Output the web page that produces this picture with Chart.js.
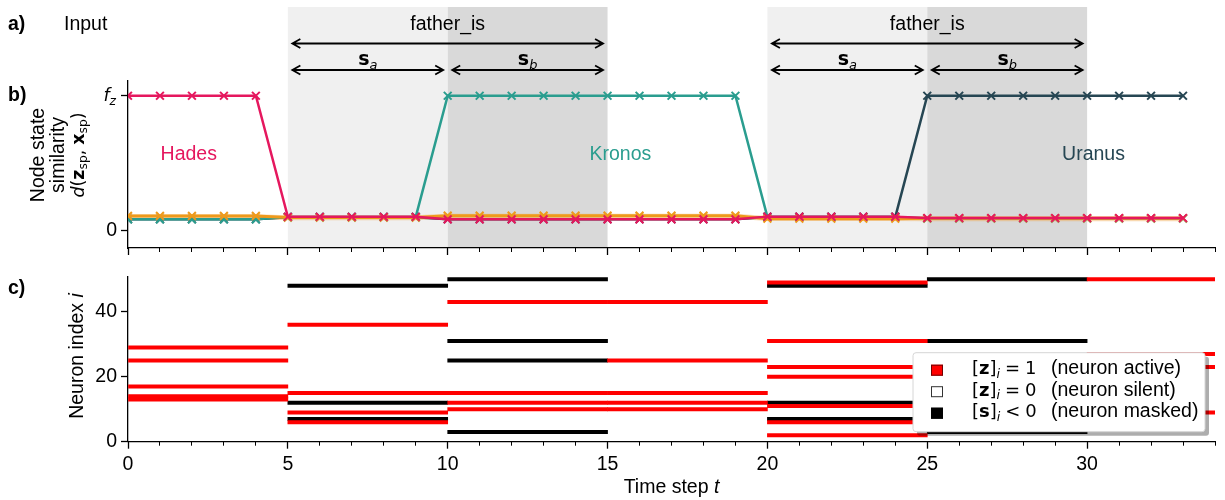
<!DOCTYPE html>
<html>
<head>
<meta charset="utf-8">
<script src="https://cdn.jsdelivr.net/npm/chart.js@4.4.1/dist/chart.umd.min.js"></script>
<style>
  body { margin: 0; background: #fff; }
  #wrap { position: relative; width: 1225px; height: 500px; }
  canvas { position: absolute; left: 0; }
  #chartB { top: 0; }
  #chartC { top: 258px; }
</style>
</head>
<body>
<div id="wrap">
  <canvas id="chartB" width="1225" height="258"></canvas>
  <canvas id="chartC" width="1225" height="242"></canvas>
</div>
<script>
// ---- data: panel b (node state similarity, 1 = f_z) ----
const timeSteps = [0,1,2,3,4,5,6,7,8,9,10,11,12,13,14,15,16,17,18,19,20,21,22,23,24,25,26,27,28,29,30,31,32,33];
const hades  = [1,1,1,1,1, 0.105,0.105,0.105,0.105,0.105, 0.086,0.086,0.086,0.086,0.086,0.086,0.086,0.086,0.086,0.086,
                0.106,0.106,0.106,0.106,0.106, 0.096,0.096,0.096,0.096,0.096,0.096,0.096,0.096,0.096];
const kronos = [0.086,0.086,0.086,0.086,0.086, 0.104,0.104,0.104,0.104,0.104, 1,1,1,1,1,1,1,1,1,1,
                0.104,0.104,0.104,0.104,0.104, 0.092,0.092,0.092,0.092,0.092,0.092,0.092,0.092,0.092];
const uranus = [0.087,0.087,0.087,0.087,0.087, 0.102,0.102,0.102,0.102,0.102, 0.087,0.087,0.087,0.087,0.087,0.087,0.087,0.087,0.087,0.087,
                0.104,0.104,0.104,0.104,0.104, 1,1,1,1,1,1,1,1,1];
const otherA = [0.111,0.111,0.111,0.111,0.111, 0.1,0.1,0.1,0.1,0.1, 0.113,0.113,0.113,0.113,0.113,0.113,0.113,0.113,0.113,0.113,
                0.091,0.091,0.091,0.091,0.091, 0.094,0.094,0.094,0.094,0.094,0.094,0.094,0.094,0.094];
const otherB = [0.106,0.106,0.106,0.106,0.106, 0.097,0.097,0.097,0.097,0.097, 0.108,0.108,0.108,0.108,0.108,0.108,0.108,0.108,0.108,0.108,
                0.093,0.093,0.093,0.093,0.093, 0.09,0.09,0.09,0.09,0.09,0.09,0.09,0.09,0.09];

// input sentences "father_is" (start step, length of each half)
const sentenceStarts = [5, 20];
const halfLen = 5;

// ---- data: panel c (neuron raster, one block per 5 steps) ----
const blockStart = [0, 5, 10, 15, 20, 25, 30];
const blockEnd   = [5, 10, 15, 20, 25, 30, 34];
const activeRows = [
  [29, 25, 17, 14, 13],
  [36, 15, 9, 6],
  [43, 15, 12, 10],
  [43, 25, 15, 12, 10],
  [49, 31, 23, 20, 11, 6, 2],
  [],
  [50, 27, 23, 9]
];
const maskedRows = [
  [],
  [48, 12, 7],
  [50, 31, 25, 3],
  [],
  [48, 12, 7],
  [50, 31, 3],
  []
];

const SANS = '"Liberation Sans", Arial, sans-serif';
const MATH = '"DejaVu Sans", sans-serif';
Chart.defaults.font.family = SANS;
Chart.defaults.font.size = 19.5;
Chart.defaults.color = '#000';

// draw a row of text runs with mixed fonts
function drawRuns(ctx, runs, x, y, align) {
  let total = 0;
  runs.forEach(r => {
    ctx.font = r.font;
    r.w = ctx.measureText(r.text).width + (r.gap || 0);
    total += r.w;
  });
  let cx = align === 'center' ? x - total / 2 : align === 'right' ? x - total : x;
  ctx.textAlign = 'left';
  ctx.textBaseline = 'alphabetic';
  runs.forEach(r => {
    ctx.font = r.font;
    ctx.fillText(r.text, cx + (r.gap || 0), y + (r.dy || 0));
    cx += r.w;
  });
}

function doubleArrow(ctx, x1, x2, y) {
  ctx.beginPath();
  ctx.moveTo(x1, y); ctx.lineTo(x2, y);
  ctx.moveTo(x1 + 8, y - 4.5); ctx.lineTo(x1, y); ctx.lineTo(x1 + 8, y + 4.5);
  ctx.moveTo(x2 - 8, y - 4.5); ctx.lineTo(x2, y); ctx.lineTo(x2 - 8, y + 4.5);
  ctx.stroke();
}

function lineSet(label, values, color, width) {
  return {
    label: label,
    data: timeSteps.map((t, k) => ({ x: t, y: values[k] })),
    borderColor: color,
    backgroundColor: color,
    borderWidth: width,
    pointStyle: 'crossRot',
    pointRadius: 5.5,
    pointBorderWidth: 2,
    pointBorderColor: color,
    tension: 0,
    fill: false
  };
}

function majorX(labels, height) {
  return {
    type: 'linear', position: 'bottom', min: 0, max: 34, weight: 1, offset: false,
    ticks: { stepSize: 5, display: labels, includeBounds: false, autoSkip: false, padding: 4, maxRotation: 0 },
    grid: { drawOnChartArea: false, tickLength: 7, tickColor: '#000', tickWidth: 1.3, offset: false },
    border: { color: '#000', width: 1.3 },
    afterFit(s) { s.height = height; s.paddingLeft = 0; s.paddingRight = 0; }
  };
}
function minorX() {
  return {
    type: 'linear', position: 'bottom', min: 0, max: 34, weight: 0, offset: false,
    ticks: { stepSize: 1, display: false, includeBounds: false },
    grid: { drawOnChartArea: false, tickLength: 4, tickColor: '#000', tickWidth: 1, offset: false },
    border: { display: false },
    afterFit(s) { s.height = 0; s.paddingLeft = 0; s.paddingRight = 0; }
  };
}
function fixY(s) {
  s.width = 128;
  s.paddingTop = 0;
  s.paddingBottom = 0;
}

// ---- panel a/b decorations ----
const panelABPlugin = {
  id: 'panelAB',
  beforeDraw(chart) {
    const ctx = chart.ctx, xs = chart.scales.x, area = chart.chartArea;
    ctx.save();
    sentenceStarts.forEach(s => {
      ctx.fillStyle = '#f0f0f0';
      ctx.fillRect(xs.getPixelForValue(s), 7, xs.getPixelForValue(s + halfLen) - xs.getPixelForValue(s), area.bottom - 7);
      ctx.fillStyle = '#d9d9d9';
      ctx.fillRect(xs.getPixelForValue(s + halfLen), 7, xs.getPixelForValue(s + 2 * halfLen) - xs.getPixelForValue(s + halfLen), area.bottom - 7);
    });
    ctx.restore();
  },
  afterDraw(chart) {
    const ctx = chart.ctx, xs = chart.scales.x, ys = chart.scales.y;
    ctx.save();
    ctx.fillStyle = '#000';
    ctx.strokeStyle = '#000';
    ctx.lineWidth = 1.8;
    ctx.textBaseline = 'alphabetic';
    ctx.textAlign = 'left';
    ctx.font = 'bold 19.5px ' + SANS;
    ctx.fillText('a)', 8, 30);
    ctx.fillText('b)', 8, 101);
    ctx.font = '19.5px ' + SANS;
    ctx.fillText('Input', 64, 30);

    // input annotations
    sentenceStarts.forEach(s => {
      const p0 = xs.getPixelForValue(s), p1 = xs.getPixelForValue(s + halfLen), p2 = xs.getPixelForValue(s + 2 * halfLen);
      ctx.font = '19.5px ' + SANS;
      ctx.textAlign = 'center';
      ctx.fillText('father_is', p1, 29.5);
      doubleArrow(ctx, p0 + 4.5, p2 - 4.5, 43.5);
      doubleArrow(ctx, p0 + 4.5, p1 - 4.5, 70);
      doubleArrow(ctx, p1 + 4.5, p2 - 4.5, 70);
      drawRuns(ctx, [{ text: 's', font: 'bold 19px ' + MATH }, { text: 'a', font: 'italic 13px ' + MATH, dy: 3.5 }], (p0 + p1) / 2, 65, 'center');
      drawRuns(ctx, [{ text: 's', font: 'bold 19px ' + MATH }, { text: 'b', font: 'italic 13px ' + MATH, dy: 3.5 }], (p1 + p2) / 2, 65, 'center');
    });

    // series labels
    ctx.font = '19.5px ' + SANS;
    ctx.textAlign = 'center';
    ctx.fillStyle = '#e5175e';
    ctx.fillText('Hades', xs.getPixelForValue(1.9), 160);
    ctx.fillStyle = '#2a9d8f';
    ctx.fillText('Kronos', xs.getPixelForValue(15.4), 160);
    ctx.fillStyle = '#264653';
    ctx.fillText('Uranus', xs.getPixelForValue(30.2), 160);

    // f_z tick label
    ctx.fillStyle = '#000';
    drawRuns(ctx, [{ text: 'f', font: 'italic 17.5px ' + MATH }, { text: 'z', font: 'italic 12.3px ' + MATH, dy: 3.5 }], 116, ys.getPixelForValue(1) + 5.5, 'right');

    // y title (three lines, rotated)
    const cy = 155;
    const lines = [
      { x: 43.5, runs: [{ text: 'Node state', font: '19.5px ' + SANS }] },
      { x: 63.5, runs: [{ text: 'similarity', font: '19.5px ' + SANS }] },
      { x: 83.5, runs: [
        { text: 'd', font: 'italic 17.5px ' + MATH },
        { text: '(', font: '17.5px ' + MATH },
        { text: 'z', font: 'bold 17.5px ' + MATH },
        { text: 'sp', font: '12.3px ' + MATH, dy: 3.5 },
        { text: ',', font: '17.5px ' + MATH },
        { text: 'x', font: 'bold 17.5px ' + MATH, gap: 5 },
        { text: 'sp', font: '12.3px ' + MATH, dy: 3.5 },
        { text: ')', font: '17.5px ' + MATH }
      ] }
    ];
    lines.forEach(l => {
      ctx.save();
      ctx.translate(l.x, cy);
      ctx.rotate(-Math.PI / 2);
      drawRuns(ctx, l.runs, 0, 0, 'center');
      ctx.restore();
    });
    ctx.restore();
  }
};

new Chart(document.getElementById('chartB'), {
  type: 'line',
  data: {
    datasets: [
      lineSet('Hades', hades, '#e5175e', 2.5),
      lineSet('other A', otherA, '#ee9a1c', 3),
      lineSet('Kronos', kronos, '#2a9d8f', 2.5),
      lineSet('Uranus', uranus, '#264653', 2.5),
      lineSet('other B', otherB, 'rgba(242,170,80,0.45)', 5)
    ]
  },
  options: {
    responsive: false,
    animation: false,
    layout: { padding: { top: 81, right: 10, left: 0, bottom: 0 } },
    plugins: { legend: { display: false }, tooltip: { enabled: false } },
    scales: {
      x: majorX(false, 10),
      xm: minorX(),
      y: {
        type: 'linear', min: -0.126, max: 1.109,
        afterBuildTicks(s) { s.ticks = [{ value: 0 }, { value: 1 }]; },
        ticks: { callback: v => (v === 0 ? '0' : ''), padding: 4 },
        grid: { drawOnChartArea: false, tickLength: 7, tickColor: '#000', tickWidth: 1.3 },
        border: { color: '#000', width: 1.3 },
        afterFit: fixY
      }
    }
  },
  plugins: [panelABPlugin]
});

// ---- panel c ----
function segments(rowsPerBlock) {
  const out = [];
  rowsPerBlock.forEach((rows, b) => {
    rows.forEach(r => out.push({ x: [blockStart[b], blockEnd[b]], y: r }));
  });
  return out;
}

const panelCPlugin = {
  id: 'panelC',
  afterDatasetsDraw(chart) {
    const ctx = chart.ctx, area = chart.chartArea;
    const W = 292, H = 79;
    const L = area.right - 10 - W, T = area.bottom - 10 - H;
    ctx.save();
    // shadow + frame
    ctx.fillStyle = 'rgba(0,0,0,0.32)';
    ctx.beginPath(); ctx.roundRect(L + 4, T + 4, W, H, 3); ctx.fill();
    ctx.fillStyle = '#fff';
    ctx.strokeStyle = '#d6d6d6';
    ctx.lineWidth = 1;
    ctx.beginPath(); ctx.roundRect(L, T, W, H, 3); ctx.fill(); ctx.stroke();

    const items = [
      { fill: '#ff0000', edge: '#700000', sym: 'z', rel: '=', val: '1', desc: '(neuron active)' },
      { fill: '#ffffff', edge: '#333333', sym: 'z', rel: '=', val: '0', desc: '(neuron silent)' },
      { fill: '#000000', edge: '#000000', sym: 's', rel: '<', val: '0', desc: '(neuron masked)' }
    ];
    items.forEach((it, k) => {
      const base = T + 21.5 + k * 21.5;
      ctx.fillStyle = it.fill;
      ctx.strokeStyle = it.edge;
      ctx.lineWidth = 1;
      ctx.fillRect(L + 18, base - 9.5, 12, 11);
      ctx.strokeRect(L + 18.5, base - 9, 11, 10);
      ctx.fillStyle = '#000';
      drawRuns(ctx, [
        { text: '[', font: '18px ' + MATH },
        { text: it.sym, font: 'bold 18px ' + MATH },
        { text: ']', font: '18px ' + MATH },
        { text: 'i', font: 'italic 12.6px ' + MATH, dy: 3.5 },
        { text: it.rel, font: '18px ' + MATH, gap: 5 },
        { text: it.val, font: '18px ' + MATH, gap: 5 }
      ], L + 59, base, 'left');
      ctx.font = '19.5px ' + SANS;
      ctx.textAlign = 'left';
      ctx.fillText(it.desc, L + 138, base);
    });
    ctx.restore();
  },
  afterDraw(chart) {
    const ctx = chart.ctx, xs = chart.scales.x;
    ctx.save();
    ctx.fillStyle = '#000';
    ctx.textBaseline = 'alphabetic';
    ctx.textAlign = 'left';
    ctx.font = 'bold 19.5px ' + SANS;
    ctx.fillText('c)', 8, 36);
    drawRuns(ctx, [{ text: 'Time step ', font: '19.5px ' + SANS }, { text: 't', font: 'italic 19.5px ' + SANS }],
      xs.getPixelForValue(17), 235, 'center');
    ctx.translate(83, 98);
    ctx.rotate(-Math.PI / 2);
    drawRuns(ctx, [{ text: 'Neuron index ', font: '19.5px ' + SANS }, { text: 'i', font: 'italic 19.5px ' + SANS }], 0, 0, 'center');
    ctx.restore();
  }
};

new Chart(document.getElementById('chartC'), {
  type: 'bar',
  data: {
    datasets: [
      { label: 'active', data: segments(activeRows), backgroundColor: '#ff0000', barThickness: 3.4, grouped: false, borderWidth: 0, borderSkipped: false },
      { label: 'masked', data: segments(maskedRows), backgroundColor: '#000000', barThickness: 3.4, grouped: false, borderWidth: 0, borderSkipped: false }
    ]
  },
  options: {
    indexAxis: 'y',
    responsive: false,
    animation: false,
    layout: { padding: { top: 19, right: 10, left: 0, bottom: 0 } },
    plugins: { legend: { display: false }, tooltip: { enabled: false } },
    scales: {
      x: majorX(true, 58.3),
      xm: minorX(),
      y: {
        type: 'linear', min: 0, max: 50.7, offset: false,
        ticks: { stepSize: 20, includeBounds: false, padding: 4 },
        grid: { drawOnChartArea: false, tickLength: 7, tickColor: '#000', tickWidth: 1.3, offset: false },
        border: { color: '#000', width: 1.3 },
        afterFit: fixY
      }
    }
  },
  plugins: [panelCPlugin]
});
</script>
</body>
</html>
